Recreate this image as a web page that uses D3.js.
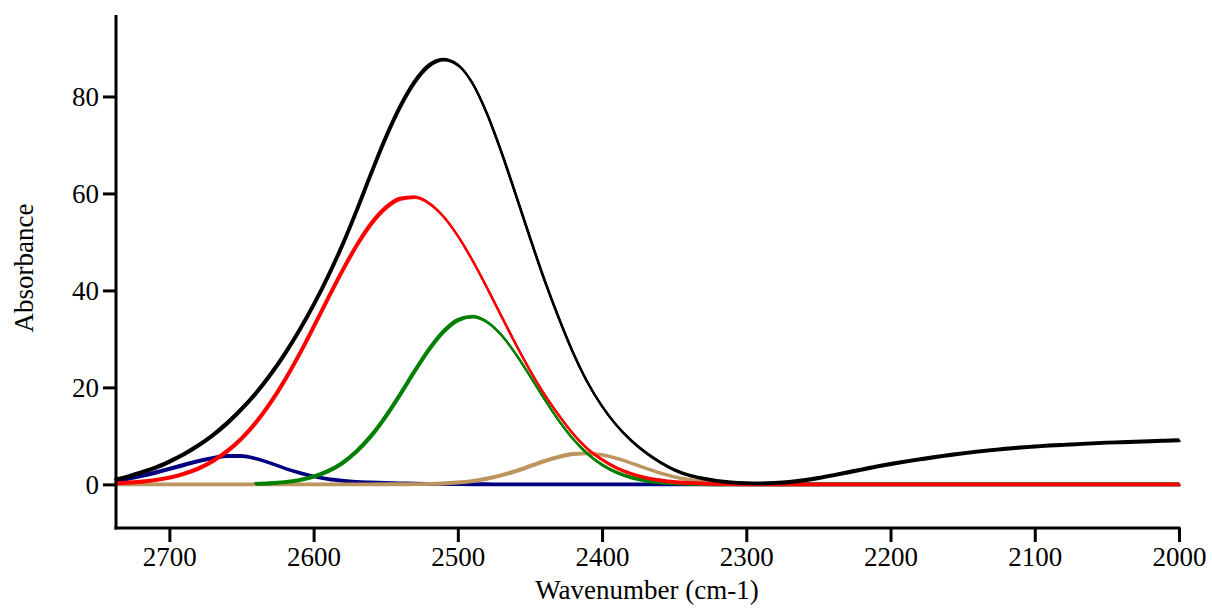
<!DOCTYPE html>
<html>
<head>
<meta charset="utf-8">
<script src="https://cdn.jsdelivr.net/npm/d3@7"></script>
<style>
  html, body { margin: 0; padding: 0; background: #fff; }
  svg { display: block; }
  text { font-family: "Times New Roman", "Liberation Serif", serif; fill: #000; }
</style>
</head>
<body>
<svg id="chart" width="1212" height="609"></svg>
<script>
// Wavenumber grid (cm-1)
const wavenumbers = [2737,2730,2720,2710,2700,2690,2680,2670,2660,2650,
  2640,2630,2620,2610,2600,2590,2580,2570,2560,2550,
  2540,2530,2520,2510,2500,2490,2480,2470,2460,2450,
  2440,2430,2420,2410,2400,2390,2380,2370,2360,2350,
  2340,2330,2320,2310,2300,2290,2280,2270,2260,2250,
  2240,2230,2220,2210,2200,2190,2180,2170,2160,2150,
  2140,2130,2120,2110,2100,2090,2080,2070,2060,2050,
  2040,2030,2020,2010,2000];

// Measured spectrum (black)
const measured = [1.0,1.5,2.4,3.4,4.7,6.2,8.0,10.1,12.6,15.5,
  18.8,22.6,26.9,31.7,37.0,42.9,49.4,56.6,64.2,71.5,
  77.9,83.0,86.4,87.6,86.5,82.8,76.6,68.7,59.9,50.9,
  42.2,34.3,27.1,21.0,16.1,12.2,9.1,6.6,4.6,3.0,
  1.9,1.2,0.7,0.4,0.25,0.2,0.3,0.5,0.85,1.3,
  1.85,2.45,3.05,3.65,4.2,4.7,5.15,5.6,6.0,6.4,
  6.75,7.05,7.35,7.6,7.8,8.0,8.15,8.3,8.45,8.6,
  8.7,8.8,8.9,9.0,9.1];

// Fitted component bands
const bandRed = [0.22,0.32,0.54,0.88,1.40,2.17,3.26,4.78,6.81,9.45,
  12.75,16.77,21.47,26.76,32.46,38.34,44.08,49.34,53.77,57.04,
  58.91,59.23,57.97,55.24,51.24,46.27,40.67,34.81,29.0,23.52,
  18.57,14.27,10.4,7.3,5.1,3.4,2.2,1.4,0.85,0.5,
  0.3,0.17,0.1,0.05,0.03,0.02,0,0,0,0,
  0,0,0,0,0,0,0,0,0,0,
  0,0,0,0,0,0,0,0,0,0,
  0,0,0,0,0];

const bandGreen = [null,null,null,null,null,null,null,null,null,null,
  0.11,0.23,0.46,0.87,1.58,2.71,4.42,6.84,10.04,14.01,
  18.55,23.31,27.81,31.5,33.88,34.59,33.53,30.86,26.96,22.36,
  17.61,13.16,9.34,6.29,4.03,2.45,1.41,0.77,0.4,0.2,
  0.09,0.04,0.02,0,0,0,0,0,0,0,
  0,0,0,0,0,0,0,0,0,0,
  0,0,0,0,0,0,0,0,0,0,
  0,0,0,0,0];

const bandBlue = [0.8,1.1,1.7,2.4,3.2,4.0,4.8,5.4,5.85,5.85,
  5.3,4.4,3.3,2.4,1.65,1.1,0.75,0.5,0.38,0.28,
  0.2,0.14,0.09,0.06,0.04,0.02,0.01,0,0,0,
  0,0,0,0,0,0,0,0,0,0,
  0,0,0,0,0,0,0,0,0,0,
  0,0,0,0,0,0,0,0,0,0,
  0,0,0,0,0,0,0,0,0,0,
  0,0,0,0,0];

const bandTan = [0,0,0,0,0,0,0,0,0,0,
  0,0,0,0,0,0,0,0,0,0.01,
  0.02,0.04,0.09,0.18,0.37,0.67,1.15,1.84,2.73,3.75,
  4.79,5.68,6.25,6.39,6.07,5.35,4.40,3.33,2.35,1.54,
  0.94,0.53,0.28,0.14,0.06,0.03,0.01,0,0,0,
  0,0,0,0,0,0,0,0,0,0,
  0,0,0,0,0,0,0,0,0,0,
  0,0,0,0,0];

const xTicks = [2700,2600,2500,2400,2300,2200,2100,2000];
const yTicks = [0,20,40,60,80];
const xLabel = "Wavenumber (cm-1)";
const yLabel = "Absorbance";

(function () {
  const svg = d3.select("#chart");
  const mLeft = 116, mRight = 1179, mTop = 15, mBottom = 528;

  const x = d3.scaleLinear().domain([2737, 2000]).range([mLeft, mRight]);
  const y = d3.scaleLinear().domain([-9.0, 96.8]).range([mBottom, mTop]);

  const g = svg.append("g");

  function drawSeries(values, color) {
    const pts = wavenumbers.map((w, i) => [w, values[i]]);
    const line = d3.line()
      .defined(d => d[1] !== null)
      .x(d => x(d[0]))
      .y(d => y(d[1]))
      .curve(d3.curveMonotoneX);
    const offsets = [[0, 0], [0.6, 0.9], [1.2, 1.8]];
    offsets.forEach(o => {
      g.append("path")
        .datum(pts)
        .attr("d", line)
        .attr("transform", `translate(${o[0] - 0.6},${o[1] - 0.9})`)
        .attr("fill", "none")
        .attr("stroke", color)
        .attr("stroke-width", 2.1)
        .attr("stroke-linejoin", "round")
        .attr("stroke-linecap", "round");
    });
  }

  drawSeries(bandBlue, "#000080");
  drawSeries(bandTan, "#bc955f");
  drawSeries(bandGreen, "#008000");
  drawSeries(bandRed, "#ff0000");
  drawSeries(measured, "#000000");

  const xAxis = d3.axisBottom(x).tickValues(xTicks).tickSize(14).tickPadding(5).tickFormat(d3.format("d"));
  const yAxis = d3.axisLeft(y).tickValues(yTicks).tickSize(13).tickPadding(4).tickFormat(d3.format("d"));

  const gx = svg.append("g").attr("transform", `translate(0,${mBottom})`).call(xAxis);
  const gy = svg.append("g").attr("transform", `translate(${mLeft},0)`).call(yAxis);

  [gx, gy].forEach(ax => {
    ax.select(".domain").remove();
    ax.attr("font-family", "'Times New Roman', 'Liberation Serif', serif");
    ax.selectAll(".tick line").attr("stroke", "#000").attr("stroke-width", 3);
    ax.selectAll(".tick text")
      .attr("font-family", "'Times New Roman', 'Liberation Serif', serif")
      .attr("font-size", 27)
      .attr("fill", "#000");
  });

  svg.append("line").attr("x1", mLeft).attr("x2", mLeft).attr("y1", mTop).attr("y2", mBottom + 1.5)
    .attr("stroke", "#000").attr("stroke-width", 3);
  svg.append("line").attr("x1", mLeft - 1.5).attr("x2", mRight + 1.5).attr("y1", mBottom).attr("y2", mBottom)
    .attr("stroke", "#000").attr("stroke-width", 3);

  svg.append("text")
    .attr("x", 647).attr("y", 599)
    .attr("text-anchor", "middle")
    .attr("font-size", 27)
    .text(xLabel);

  svg.append("text")
    .attr("transform", "translate(33,268) rotate(-90)")
    .attr("text-anchor", "middle")
    .attr("font-size", 27)
    .text(yLabel);
})();
</script>
</body>
</html>
